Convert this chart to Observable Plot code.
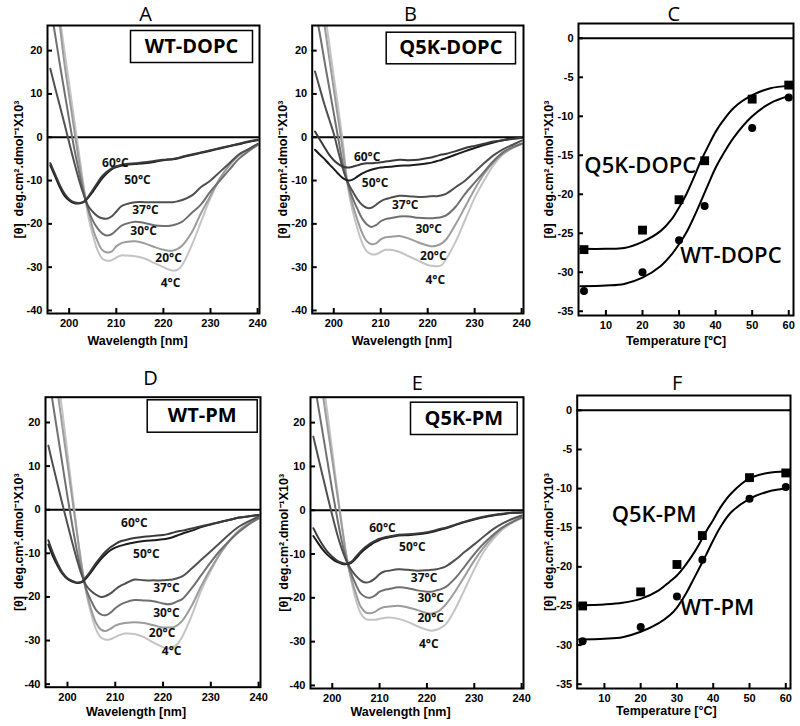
<!DOCTYPE html>
<html><head><meta charset="utf-8">
<script src="https://cdn.jsdelivr.net/npm/d3@7"></script>
<script src="https://cdn.jsdelivr.net/npm/@observablehq/plot@0.6"></script>
<style>
body{margin:0;background:#fff;}
#fig{position:relative;width:800px;height:726px;overflow:hidden;background:#fff;}
#fig > svg{position:absolute;}
</style></head><body><div id="fig"></div>
<script>
// ---------- DATA ----------
const wavelengths = [196,197,198,199,200,201,202,203,204,205,206,207,208,209,210,211,212,214,216,218,220,221,222,223,224,226,228,230,232,234,236,238,240];
const temps = ["4°C","20°C","30°C","37°C","50°C","60°C"];
const wavelengthTicks = [200,210,220,230,240];
const ellipticityTicks = [20,10,0,-10,-20,-30,-40];

// Panel A: WT-DOPC
const a4  = [null,null,27.7,20,12.3,4.6,-3.1,-10.8,-18,-22.5,-26,-28,-28.5,-28.4,-27.8,-27.3,-27.3,-27.5,-28,-29,-30,-30.5,-30.8,-30.6,-29.5,-25,-19.5,-14,-9.5,-6.3,-4.2,-2.8,-1.7];
const a20 = [null,null,26,17,9.5,2.2,-5,-11.5,-16.5,-21,-24,-26,-26.6,-26.4,-25.2,-24.5,-24.2,-24,-24.5,-25.3,-26,-26.2,-26.2,-25.8,-25,-22,-17.5,-13.5,-9.5,-6.5,-4.2,-2.8,-1.8];
const a30 = [30.5,23.8,17,10.5,4,-2.2,-7.5,-12.5,-16.5,-19.2,-21,-22.2,-22.7,-22.4,-21.5,-20.5,-20,-19.5,-19.8,-20.3,-20.5,-20.5,-20.3,-20,-19.5,-17.5,-15.5,-12.5,-10,-7.5,-5,-3.3,-1.8];
const a37 = [15.8,11.5,7.3,3.1,-1.2,-5.5,-9.5,-13,-15.8,-17.2,-18.2,-18.7,-18.8,-18.3,-17.2,-16,-15.5,-15,-15,-15,-15,-15,-15,-14.8,-14.5,-13.5,-11.5,-10,-8,-6,-4,-2.8,-1.5];
const a50 = [-6.5,-9,-11.5,-13.5,-14.6,-15.2,-15.3,-15,-14,-12.6,-11,-9.5,-8.3,-7.4,-6.9,-6.6,-6.4,-6.2,-6,-5.7,-5.3,-5.2,-5.1,-4.9,-4.6,-4.1,-3.6,-3.1,-2.6,-2.1,-1.6,-1.1,-0.7];
const a60 = [-6,-8.5,-11,-13,-14.3,-15,-15.2,-15,-13.8,-12.2,-10.5,-9,-8,-7.2,-6.7,-6.4,-6.2,-6,-5.8,-5.5,-5.2,-5.1,-5,-4.8,-4.5,-4,-3.5,-3,-2.5,-2,-1.5,-1,-0.6];
const aLabelX = [221.5,221.1,215.8,216.2,214.5,209.8];
const aLabelY = [-33.8,-28,-21.8,-16.9,-9.8,-6.1];

// Panel B: Q5K-DOPC
const b4  = [null,null,29.5,21.8,14,6.3,-1.8,-11.5,-17,-21,-24.3,-26.3,-27,-27,-26.5,-26,-26,-26.5,-27.5,-28.5,-29.5,-29.7,-29.8,-29.5,-28,-24,-19,-14,-10,-6.5,-4,-2.5,-1.5];
const b20 = [null,null,26,18.5,11,3.7,-3.7,-11,-15.5,-19,-22,-24,-24.7,-24.5,-23.6,-23.1,-23,-22.8,-23.4,-24.3,-25,-25.2,-25,-24.5,-23.5,-20,-16,-12,-8.5,-5.8,-3.8,-2.5,-1.5];
const b30 = [29.5,24,17.7,11.6,5.5,-0.6,-6.5,-10.8,-14,-16.5,-18.7,-20.1,-20.7,-20.3,-19.4,-18.9,-18.7,-18.3,-18.3,-18.6,-18.7,-18.7,-18.6,-18.4,-18,-16,-13,-10.5,-8,-5.5,-3.5,-2.3,-1.5];
const b37 = [15.2,11.4,7.6,4.2,0.8,-3.5,-7.5,-10.5,-12.5,-14.3,-15.6,-16.3,-16.3,-15.6,-14.8,-14.3,-14,-13.5,-13.6,-13.8,-13.7,-13.6,-13.6,-13.4,-13,-11.5,-10,-8,-6,-4.2,-2.8,-1.8,-0.8];
const b50 = [-2.9,-4,-5,-6.2,-7.3,-8.5,-9.5,-10,-9.8,-9.1,-8.4,-7.9,-7.5,-7.2,-7,-6.9,-6.8,-6.6,-6.5,-6.3,-6,-5.8,-5.5,-5.2,-4.8,-4,-3.2,-2.5,-1.8,-1.2,-0.7,-0.3,-0.1];
const b60 = [1.3,-0.5,-2.3,-4,-5.3,-6.2,-6.8,-7,-6.8,-6.5,-6.2,-6,-6,-5.9,-5.8,-5.6,-5.5,-5.2,-5.3,-5.2,-4.8,-4.6,-4.3,-4,-3.8,-3.2,-2.5,-2,-1.5,-1,-0.7,-0.4,-0.2];
const bLabelX = [221.6,221.2,220.2,215.2,208.8,207.1];
const bLabelY = [-33,-27.4,-21.2,-15.6,-10.5,-4.6];

// Panel D: WT-PM
const d4  = [null,null,30,22,13,4,-5,-13,-19.5,-24,-27.5,-29.3,-29.8,-29.7,-29.2,-28.7,-28.4,-28.5,-29.2,-30.5,-31.5,-31.8,-31.6,-30.8,-29.2,-24.3,-18.5,-14,-10,-7,-4.6,-3,-2];
const d20 = [null,null,26.5,18.5,10.5,2.5,-5.5,-13,-19,-23,-26,-27.5,-27.8,-27.3,-26.6,-26.2,-26,-25.8,-26,-26.5,-27,-27,-27,-26.5,-25.5,-22,-17.5,-13.5,-10,-7,-4.7,-3.2,-2];
const d30 = [31,24,17,10,3,-3.5,-9.5,-14.5,-18.5,-21,-23,-24,-24.2,-23.6,-22.6,-21.8,-21.3,-20.7,-20.8,-21,-21.5,-21.7,-21.5,-21,-20.5,-18,-15,-12,-9.3,-7,-5,-3.3,-2];
const d37 = [14.7,10,5.5,1,-3.3,-7.5,-11.5,-15,-17.5,-18.7,-19.5,-20,-19.8,-19.2,-18.3,-17.5,-17,-16,-16.2,-16.2,-16.2,-16.1,-16,-15.7,-15.3,-13.5,-11.5,-9.5,-7.5,-5.5,-3.8,-2.6,-1.6];
const d50 = [-8,-10.8,-13,-14.8,-15.9,-16.5,-16.8,-16.6,-15.6,-14.2,-12.7,-11.3,-10.2,-9.3,-8.7,-8.3,-8,-7.5,-7.2,-7,-6.8,-6.6,-6.3,-5.9,-5.5,-4.8,-4,-3.4,-2.8,-2.3,-1.8,-1.5,-1.2];
const d60 = [-7,-10,-12.5,-14.5,-15.7,-16.3,-16.7,-16.5,-15.3,-13.8,-12.2,-10.8,-9.6,-8.6,-7.9,-7.3,-7,-6.5,-6.2,-6,-5.8,-5.6,-5.3,-5,-4.8,-4.3,-3.8,-3.3,-2.8,-2.3,-1.8,-1.5,-1.2];
const dLabelX = [221.8,219.8,220.7,220.7,216.5,214.0];
const dLabelY = [-32.4,-28.3,-23.7,-17.9,-10.3,-3.1];

// Panel E: Q5K-PM
const e4  = [null,null,30,22,13.5,5,-3,-10.5,-16,-20.5,-23.5,-24.8,-25,-25,-24.8,-24.6,-24.5,-24.8,-25.5,-26.5,-27.3,-27.5,-27.3,-26.8,-26,-22.5,-18,-13.5,-9.5,-6.6,-4.4,-2.9,-1.8];
const e20 = [null,null,26.5,19,11.5,4,-3.5,-10.5,-15.5,-19,-22,-23.3,-23.5,-23.2,-22.5,-22.1,-22,-21.8,-22.2,-22.8,-23.5,-23.6,-23.3,-22.6,-21.5,-18.5,-15,-11.5,-8.5,-6,-4,-2.7,-1.7];
const e30 = [30.5,24,17.5,11,4.5,-1.5,-7,-11.3,-14.5,-17,-19,-19.8,-20,-19.5,-18.6,-18.2,-18,-17.6,-17.8,-18.3,-18.6,-18.6,-18.3,-18,-17.5,-15.5,-12.8,-10,-7.6,-5.6,-3.9,-2.7,-1.7];
const e37 = [16.8,12.2,7.7,3.2,-1.2,-5.3,-8.8,-11.6,-13.6,-15,-16,-16.5,-16.3,-15.6,-14.6,-14,-13.8,-13.5,-13.6,-13.8,-13.7,-13.6,-13.5,-13.2,-12.8,-11.3,-9.5,-7.8,-6,-4.3,-3,-2,-1.2];
const e50 = [-5.9,-7.5,-9,-10.2,-11.1,-11.8,-12.2,-12.3,-12,-11,-9.8,-8.8,-8,-7.3,-6.8,-6.4,-6.2,-5.8,-5.7,-5.5,-5.2,-5,-4.7,-4.4,-4.1,-3.4,-2.7,-2.1,-1.6,-1.2,-0.9,-0.6,-0.5];
const e60 = [-4.1,-6.2,-8,-9.5,-10.6,-11.5,-12,-12.2,-11.8,-10.6,-9.4,-8.4,-7.6,-7,-6.5,-6.2,-6,-5.6,-5.5,-5.3,-5,-4.8,-4.5,-4.2,-4,-3.3,-2.6,-2,-1.5,-1.1,-0.8,-0.6,-0.5];
const eLabelX = [220.4,220.8,220.8,219.4,216.9,210.6];
const eLabelY = [-30.5,-24.7,-20.1,-15.4,-8.4,-4.2];

// Panels C and F: thermal unfolding
const temperatures = [4,20,30,37,50,60];
const temperatureTicks = [10,20,30,40,50,60];
const unfoldTicks = [0,-5,-10,-15,-20,-25,-30,-35];
const fitTemperatures = [3,10,15,20,25,28,30,32,34,36,38,40,42,45,50,55,60];
const cQ5K = [-27.1,-24.6,-20.7,-15.7,-7.8,-6.0];
const cWT  = [-32.4,-30.0,-25.9,-21.5,-11.5,-7.6];
const cQ5KFit = [-27.0,-27.0,-26.9,-26.1,-24.7,-23.2,-21.7,-20,-17.9,-15.7,-13.8,-12,-10.6,-8.9,-7.3,-6.4,-6.1];
const cWTFit  = [-31.8,-31.7,-31.5,-30.7,-29.2,-27.7,-26.4,-24.9,-23,-20.9,-18.7,-16.6,-14.9,-12.7,-10,-8.3,-7.4];
const fQ5K = [-25.0,-23.2,-19.7,-16.0,-8.6,-8.0];
const fWT  = [-29.5,-27.7,-23.8,-19.1,-11.3,-9.8];
const fQ5KFit = [-24.9,-24.8,-24.6,-24.1,-23,-21.9,-21.1,-20,-18.7,-17.2,-15.5,-14,-12.4,-10.6,-8.7,-8.0,-7.8];
const fWTFit  = [-29.3,-29.2,-29,-28.3,-27.2,-26.2,-25.2,-23.8,-22.1,-20.3,-18.5,-16.6,-14.9,-13,-11.3,-10.4,-10.0];

// ---------- STYLE ----------
const seriesColors = ["#c4c4c4","#9c9c9c","#707070","#505050","#1c1c1c","#3a3a3a"];
const yTitle = "[θ]  deg.cm².dmol⁻¹X10³";
const tickFont = "'Liberation Sans', Arial, sans-serif";
const labelFont = "'Open Sans', sans-serif";

const fig = document.getElementById("fig");
function place(svg, left, top) {
  svg.style.left = left + "px"; svg.style.top = top + "px";
  fig.appendChild(svg);
}
function rows(xs, ys) {
  return xs.map((x, i) => ({x, y: ys[i]})).filter(d => d.y != null);
}
const centered = {textAnchor: "middle", lineAnchor: "middle"};
function axes(p, xTicks, yTicks) {
  return [
    Plot.axisY({ticks: yTicks, tickSize: -5, tickPadding: 10, strokeWidth: 2, tickFormat: d => String(d), label: null, fontSize: 11, fontWeight: "bold"}),
    Plot.axisX({ticks: xTicks, tickSize: -5, tickPadding: 11, strokeWidth: 2, tickFormat: d => String(d), label: null, fontSize: 11, fontWeight: "bold"}),
    Plot.frame({stroke: "black", strokeWidth: 2}),
    Plot.text([p.letter], {...centered, text: d => d, frameAnchor: "top-left", dx: p.letterX - p.ml, dy: p.letterY - p.mt, fontSize: 20, fontWeight: "normal", fontFamily: labelFont}),
    Plot.text([p.xTitle], {...centered, text: d => d, frameAnchor: "bottom", dx: p.xTitleDx, dy: p.xTitleDy, fontSize: 12.5, fontWeight: "bold"}),
    Plot.text([yTitle], {...centered, text: d => d, frameAnchor: "left", rotate: -90, dx: p.yTitleDx, fontSize: 12.5, fontWeight: "bold"})
  ];
}
function spectrum(p) {
  const marks = [
    Plot.ruleY([0], {stroke: "black", strokeWidth: 2}),
    ...p.series.map((s, i) => Plot.line(rows(wavelengths, s), {x: "x", y: "y", stroke: seriesColors[i], strokeWidth: 2, curve: "catmull-rom", clip: true})),
    Plot.text(temps, {...centered, x: p.labelX, y: p.labelY, text: d => d, fontSize: 12, fontWeight: "bold", fontFamily: labelFont, fill: "#111"}),
    Plot.frame({insetLeft: p.box[0] - p.ml, insetRight: (p.w - p.mr) - p.box[1], insetTop: p.box[2] - p.mt, insetBottom: (p.h - p.mb) - p.box[3], stroke: "black", strokeWidth: 1.5}),
    Plot.text([p.boxText], {...centered, text: d => d, frameAnchor: "top-left", dx: (p.box[0] + p.box[1]) / 2 - p.ml, dy: (p.box[2] + p.box[3]) / 2 - p.mt, fontSize: 20, fontWeight: "bold", fontFamily: labelFont}),
    ...axes(p, wavelengthTicks, ellipticityTicks)
  ];
  return Plot.plot({
    width: p.w, height: p.h, marginLeft: p.ml, marginRight: p.mr, marginTop: p.mt, marginBottom: p.mb,
    x: {domain: [195.4, 240.4]}, y: {domain: [-40.7, 25.8]},
    style: {fontFamily: tickFont, fontSize: "11px", background: "transparent", color: "black", overflow: "visible"},
    marks
  });
}
function unfolding(p) {
  const marks = [
    Plot.ruleY([0], {stroke: "black", strokeWidth: 2}),
    Plot.line(rows(fitTemperatures, p.q5kFit), {x: "x", y: "y", stroke: "black", strokeWidth: 2, curve: "catmull-rom", clip: true}),
    Plot.line(rows(fitTemperatures, p.wtFit), {x: "x", y: "y", stroke: "black", strokeWidth: 2, curve: "catmull-rom", clip: true}),
    Plot.dot(rows(temperatures, p.q5k), {x: "x", y: "y", symbol: "square", r: 5, fill: "black"}),
    Plot.dot(rows(temperatures, p.wt), {x: "x", y: "y", symbol: "circle", r: 4, fill: "black"}),
    Plot.text(p.names, {...centered, x: p.nameX, y: p.nameY, text: d => d, fontSize: 22, fontWeight: 600, fontFamily: labelFont}),
    ...axes(p, temperatureTicks, unfoldTicks)
  ];
  return Plot.plot({
    width: p.w, height: p.h, marginLeft: p.ml, marginRight: p.mr, marginTop: p.mt, marginBottom: p.mb,
    x: {domain: [2.5, 61.3]}, y: {domain: [-35.55, 1.9]},
    style: {fontFamily: tickFont, fontSize: "11px", background: "transparent", color: "black", overflow: "visible"},
    marks
  });
}

place(spectrum({w: 265, h: 360, ml: 47, mr: 6, mt: 25, mb: 47, series: [a4,a20,a30,a37,a50,a60], labelX: aLabelX, labelY: aLabelY,
  box: [130, 252, 30, 62], boxText: "WT-DOPC", letter: "A", letterX: 145, letterY: 14,
  xTitle: "Wavelength [nm]", xTitleDx: -16, xTitleDy: 27, yTitleDx: -29}), 0, 0);
place(spectrum({w: 265, h: 360, ml: 46.7, mr: 7, mt: 25, mb: 47, series: [b4,b20,b30,b37,b50,b60], labelX: bLabelX, labelY: bLabelY,
  box: [120.7, 250, 31.7, 63.3], boxText: "Q5K-DOPC", letter: "B", letterX: 145, letterY: 14,
  xTitle: "Wavelength [nm]", xTitleDx: -16, xTitleDy: 27, yTitleDx: -29}), 265, 0);
place(unfolding({w: 270, h: 360, ml: 48, mr: 7, mt: 23, mb: 45, q5k: cQ5K, wt: cWT, q5kFit: cQ5KFit, wtFit: cWTFit,
  names: ["Q5K-DOPC", "WT-DOPC"], nameX: [19.4, 44.2], nameY: [-16.4, -27.9], letter: "C", letterX: 143.3, letterY: 14,
  xTitle: "Temperature [ºC]", xTitleDx: -10, xTitleDy: 25, yTitleDx: -30}), 530, 0);
place(spectrum({w: 265, h: 366, ml: 45, mr: 5, mt: 36.7, mb: 39.3, series: [d4,d20,d30,d37,d50,d60], labelX: dLabelX, labelY: dLabelY,
  box: [146.7, 256.7, 39.3, 71.7], boxText: "WT-PM", letter: "D", letterX: 150, letterY: 18.3,
  xTitle: "Wavelength [nm]", xTitleDx: -17, xTitleDy: 25, yTitleDx: -27}), 0, 360);
place(spectrum({w: 265, h: 366, ml: 45, mr: 7, mt: 36.7, mb: 38, series: [e4,e20,e30,e37,e50,e60], labelX: eLabelX, labelY: eLabelY,
  box: [145, 251.7, 41.7, 74], boxText: "Q5K-PM", letter: "E", letterX: 151.7, letterY: 23.3,
  xTitle: "Wavelength [nm]", xTitleDx: -16.5, xTitleDy: 23.7, yTitleDx: -27}), 265, 360);
place(unfolding({w: 270, h: 366, ml: 46.7, mr: 10, mt: 35, mb: 38, q5k: fQ5K, wt: fWT, q5kFit: fQ5KFit, wtFit: fWTFit,
  names: ["Q5K-PM", "WT-PM"], nameX: [23.7, 41.1], nameY: [-13.4, -25.3], letter: "F", letterX: 146.7, letterY: 23.3,
  xTitle: "Temperature [°C]", xTitleDx: -17.5, xTitleDy: 22, yTitleDx: -28}), 530, 360);
</script>
</body></html>
